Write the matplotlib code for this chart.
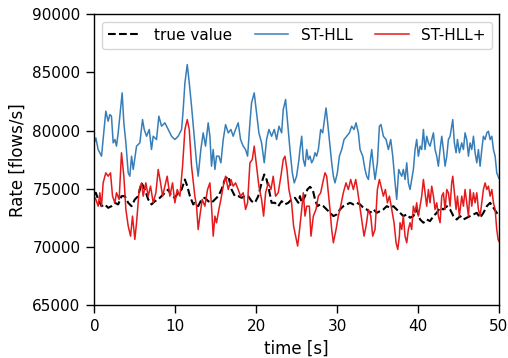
import matplotlib
matplotlib.use("Agg")
import matplotlib.pyplot as plt

# tempo [s] e valores (flows/s)
t_true = [0.0, 0.17, 0.45, 0.87, 1.28, 1.69, 2.10, 2.52, 2.93, 3.34, 3.75, 4.17, 4.58, 4.99, 5.40,
          5.82, 6.23, 6.64, 7.05, 7.47, 7.88, 8.29, 8.70, 9.12, 9.53, 9.94, 10.35, 10.77, 11.18,
          11.47, 11.80, 12.21, 12.41, 12.82, 13.24, 13.65, 14.06, 14.47, 14.89, 15.30, 15.71,
          16.12, 16.54, 16.95, 17.36, 17.77, 18.19, 18.60, 19.01, 19.42, 19.84, 20.25, 20.66,
          20.99, 21.28, 21.57, 21.90, 22.31, 22.72, 23.14, 23.55, 23.96, 24.37, 24.79, 25.20,
          25.41, 25.62, 26.03, 26.32, 26.65, 26.98, 27.27, 27.56, 27.89, 28.30, 28.71, 29.12,
          29.54, 29.95, 30.36, 30.77, 31.19, 31.60, 32.01, 32.42, 32.84, 33.25, 33.66, 34.07,
          34.49, 34.90, 35.31, 35.72, 36.14, 36.55, 36.96, 37.37, 37.78, 38.19, 38.61, 39.02,
          39.43, 39.84, 40.26, 40.67, 41.08, 41.49, 41.91, 42.32, 42.73, 43.14, 43.56, 43.97,
          44.38, 44.79, 45.21, 45.62, 46.03, 46.44, 46.86, 47.27, 47.68, 48.09, 48.51, 48.92,
          49.33, 49.74, 50.0]
v_true = [74500, 74660, 74090, 73510, 73660, 73370, 73510, 73800, 73660, 74370, 74370, 73800,
          73510, 74090, 74370, 75510, 74940, 74090, 73660, 73940, 74090, 74370, 74660, 74940,
          74370, 74230, 74660, 74940, 75800, 75230, 74370, 73660, 73800, 73510, 74090, 74230,
          73940, 73800, 74090, 74370, 74940, 75800, 76080, 74940, 74370, 74370, 74230, 74370,
          74370, 73940, 73800, 74370, 75510, 76230, 75800, 74940, 73800, 73800, 73510, 73940,
          73660, 73800, 74090, 74230, 73800, 74370, 73800, 74370, 74940, 75170, 74940, 74090,
          73510, 73660, 73510, 73230, 72940, 72660, 72800, 73230, 73510, 73660, 73800, 73660,
          73800, 73660, 73370, 73230, 72940, 73230, 72940, 73090, 73230, 73510, 73370, 73510,
          73230, 72940, 72660, 72800, 72520, 72660, 73230, 72370, 72090, 72370, 72230, 72660,
          72940, 73370, 73230, 73510, 73230, 72660, 72370, 72660, 72370, 72520, 72660, 72800,
          72940, 72520, 72940, 73510, 73800, 73370, 72940, 72700]

t_hll = [0.0, 0.17, 0.45, 0.87, 1.07, 1.40, 1.69, 1.90, 2.10, 2.31, 2.52, 2.72, 2.93, 3.14, 3.42,
         3.63, 3.88, 4.17, 4.37, 4.58, 4.79, 5.20, 5.61, 5.94, 6.15, 6.44, 6.77, 7.05, 7.26, 7.67,
         7.96, 8.29, 8.70, 9.12, 9.53, 9.94, 10.35, 10.77, 10.97, 11.18, 11.47, 11.72, 12.00,
         12.41, 12.62, 12.82, 13.15, 13.44, 13.73, 14.06, 14.27, 14.47, 14.68, 14.89, 15.09,
         15.38, 15.63, 15.92, 16.21, 16.54, 16.87, 17.15, 17.44, 17.77, 18.06, 18.39, 18.68,
         18.93, 19.22, 19.42, 19.75, 20.04, 20.33, 20.66, 20.99, 21.28, 21.57, 21.90, 22.23,
         22.52, 22.81, 23.14, 23.34, 23.63, 23.88, 24.17, 24.46, 24.70, 24.99, 25.28, 25.41,
         25.62, 25.82, 26.03, 26.24, 26.44, 26.65, 26.85, 27.06, 27.27, 27.47, 27.68, 27.97,
         28.22, 28.38, 28.63, 28.79, 29.04, 29.33, 29.54, 29.74, 30.03, 30.28, 30.57, 30.86,
         31.19, 31.52, 31.80, 32.09, 32.34, 32.63, 32.84, 33.17, 33.45, 33.66, 33.87, 34.07,
         34.28, 34.49, 34.69, 34.98, 35.23, 35.43, 35.72, 36.05, 36.34, 36.63, 36.88, 37.17,
         37.37, 37.62, 37.78, 37.99, 38.19, 38.40, 38.61, 38.81, 39.02, 39.22, 39.43, 39.64,
         39.84, 40.05, 40.26, 40.46, 40.67, 40.87, 41.08, 41.29, 41.49, 41.70, 41.91, 42.11,
         42.32, 42.52, 42.73, 42.94, 43.14, 43.35, 43.56, 43.76, 43.97, 44.17, 44.30, 44.50,
         44.71, 44.88, 45.12, 45.41, 45.62, 45.82, 46.03, 46.24, 46.44, 46.65, 46.86, 47.06,
         47.27, 47.47, 47.68, 47.89, 48.09, 48.30, 48.51, 48.71, 48.92, 49.13, 49.33, 49.54,
         49.74, 49.91, 50.0]
v_hll = [79000, 79370, 78370, 77800, 79230, 81660, 80800, 81370, 81230, 78940, 79230, 78660,
         79800, 81230, 83230, 80660, 78940, 76370, 76080, 77800, 76660, 78660, 78940, 80940,
         80090, 79510, 80090, 78370, 79510, 79230, 81230, 80370, 80660, 80090, 79510, 79230,
         79510, 80090, 81800, 84090, 85660, 84090, 82090, 78940, 77230, 76080, 78370, 79800,
         78660, 80660, 79510, 76940, 78370, 76660, 77800, 77800, 77230, 79230, 80510, 79800,
         80090, 79510, 80090, 80660, 79230, 78660, 78370, 77800, 80660, 82370, 83230, 81510,
         79800, 78940, 77230, 79230, 80090, 79510, 80090, 79230, 80370, 79800, 81800, 82660,
         80660, 78370, 76370, 75510, 76080, 77510, 78370, 79510, 77510, 76940, 78370, 77510,
         77800, 77230, 77510, 78090, 77800, 78370, 80090, 79800, 80660, 81940, 80940, 79230,
         77230, 76080, 75510, 76370, 77800, 78370, 79230, 79510, 79800, 80370, 80090, 80660,
         79800, 78370, 77800, 76660, 76080, 75800, 77230, 78370, 76940, 75800, 77230, 80370,
         80510, 79510, 79230, 78370, 79230, 77800, 75510, 74090, 76660, 76370, 76080, 76660,
         75800, 77230, 75510, 74940, 75800, 76660, 78370, 79230, 77800, 78660, 78370, 80090,
         78370, 79510, 78940, 78660, 79230, 79800, 78370, 77800, 76940, 78370, 79510, 78370,
         76940, 77800, 79230, 79510, 80370, 80940, 78940, 78090, 79230, 78090, 78940, 78370,
         79800, 79230, 77800, 78940, 78370, 79510, 78090, 77230, 78370, 76940, 78370, 79510,
         79230, 79800, 79940, 79230, 79510, 78370, 77800, 76370, 76080, 75900]

t_plus = [0.0, 0.17, 0.45, 0.66, 0.87, 1.07, 1.40, 1.69, 1.98, 2.23, 2.52, 2.72, 3.05, 3.34, 3.63,
          3.88, 4.17, 4.46, 4.70, 4.99, 5.20, 5.53, 5.82, 6.02, 6.35, 6.64, 6.93, 7.26, 7.59,
          7.88, 8.17, 8.42, 8.70, 8.99, 9.32, 9.65, 9.94, 10.23, 10.56, 10.89, 11.18, 11.47,
          11.72, 12.00, 12.41, 12.62, 12.82, 13.03, 13.32, 13.65, 13.98, 14.27, 14.47, 14.68,
          14.89, 15.09, 15.38, 15.63, 15.92, 16.21, 16.54, 16.87, 17.15, 17.44, 17.77, 18.06,
          18.39, 18.68, 18.93, 19.22, 19.51, 19.75, 20.04, 20.33, 20.66, 20.91, 21.16, 21.49,
          21.82, 22.10, 22.39, 22.72, 23.05, 23.34, 23.55, 23.80, 24.04, 24.37, 24.62, 24.87,
          25.12, 25.36, 25.62, 25.82, 26.03, 26.24, 26.57, 26.77, 27.06, 27.39, 27.68, 27.97,
          28.22, 28.50, 28.71, 28.92, 29.12, 29.33, 29.54, 29.87, 30.15, 30.44, 30.77, 31.10,
          31.39, 31.68, 32.01, 32.30, 32.51, 32.75, 33.04, 33.33, 33.58, 33.87, 34.16, 34.40,
          34.69, 34.98, 35.23, 35.52, 35.72, 35.97, 36.22, 36.47, 36.75, 37.04, 37.29, 37.50,
          37.70, 37.78, 37.99, 38.19, 38.40, 38.61, 38.81, 39.02, 39.22, 39.43, 39.64, 39.84,
          40.05, 40.26, 40.46, 40.67, 40.87, 41.08, 41.29, 41.49, 41.70, 41.91, 42.11, 42.32,
          42.52, 42.73, 42.94, 43.14, 43.35, 43.56, 43.76, 43.97, 44.17, 44.30, 44.50, 44.71,
          44.88, 45.12, 45.41, 45.62, 45.82, 46.03, 46.24, 46.44, 46.65, 46.86, 47.06, 47.27,
          47.47, 47.68, 47.89, 48.09, 48.30, 48.51, 48.71, 48.92, 49.13, 49.33, 49.54, 49.74,
          49.91, 50.0]
v_plus = [74300, 74090, 73510, 74660, 73510, 75510, 76370, 76080, 76370, 74370, 73800, 74660,
          74090, 78090, 76080, 73230, 71800, 70940, 72660, 70660, 72090, 74940, 75510, 74370,
          75510, 74370, 75230, 73800, 74660, 76660, 75510, 74370, 75230, 76080, 74370, 75510,
          73800, 74940, 74370, 76940, 80090, 80940, 80090, 76940, 74370, 73510, 71510, 72660,
          74090, 73510, 74940, 75510, 73510, 70940, 72660, 72090, 73230, 74090, 75230, 76080,
          74940, 75800, 75230, 75510, 74940, 74370, 74660, 73230, 73800, 77230, 77510, 78660,
          76940, 75230, 74090, 72660, 74660, 75510, 74940, 76080, 74370, 74660, 76080, 77510,
          77800, 76660, 74940, 73800, 71800, 70940, 70090, 71510, 73230, 74660, 72660, 73510,
          73510, 70940, 72660, 73230, 74370, 74660, 75510, 76370, 76080, 74660, 73230, 71510,
          70370, 71510, 72660, 73510, 74660, 75510, 74940, 75800, 74940, 75800, 74940, 73800,
          72370, 70940, 71800, 73230, 72660, 70940, 71510, 74940, 75800, 74940, 74370, 74940,
          73800, 74370, 73230, 72090, 70370, 69800, 70940, 72090, 71510, 72660, 70940, 70370,
          71510, 72090, 71510, 73510, 72940, 73800, 72660, 73510, 74370, 75800, 74660, 73510,
          74940, 73800, 75230, 74370, 73230, 73800, 72660, 72090, 74370, 74660, 73230, 74940,
          74660, 73510, 75510, 76080, 74660, 73230, 74370, 72660, 74370, 73510, 74940, 73800,
          72660, 74940, 73510, 74660, 73800, 74660, 73230, 72660, 73800, 74940, 75510, 74940,
          75230, 74370, 74940, 73800, 73230, 71510, 70660, 70500]

fig = plt.figure(figsize=(5.08, 3.58), dpi=100)
ax = fig.add_axes([0.186, 0.147, 0.796, 0.814])

ax.plot(t_true, v_true, color="black", linestyle="--", linewidth=1.5, label="true value")
ax.plot(t_hll, v_hll, color="#377eb8", linewidth=1.1, label="ST-HLL")
ax.plot(t_plus, v_plus, color="#e41a1c", linewidth=1.1, label="ST-HLL+")

ax.set_xlim(0, 50)
ax.set_ylim(65000, 90000)
ax.set_xticks([0, 10, 20, 30, 40, 50])
ax.set_yticks([65000, 70000, 75000, 80000, 85000, 90000])
ax.tick_params(labelsize=11, length=5.5, width=1.0, pad=4.5)
for sp in ax.spines.values():
    sp.set_linewidth(1.0)
ax.set_xlabel("time [s]", fontsize=12)
ax.set_ylabel("Rate [flows/s]", fontsize=12)

ax.legend(loc="upper center", ncol=3, fontsize=11, frameon=True, framealpha=0.8,
          handlelength=2.2, columnspacing=1.5)

fig.savefig("out.png", dpi=100)
